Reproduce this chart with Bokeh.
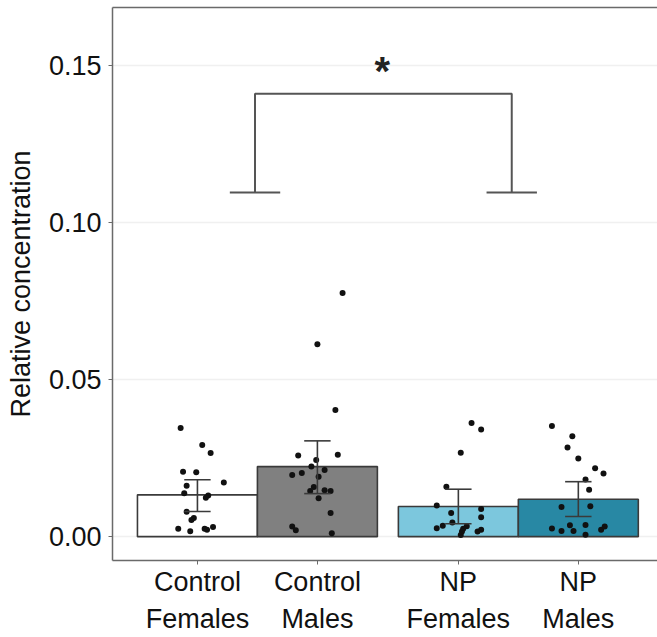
from bokeh.plotting import figure
from bokeh.models import (ColumnDataSource, FixedTicker, NumeralTickFormatter,
                          LinearAxis, Range1d)
from bokeh.core.properties import value
from bokeh.embed import file_html
from bokeh.resources import INLINE

# Groups and their positions on the x axis
groups = ["Control Females", "Control Males", "NP Females", "NP Males"]
tick_labels = ["Control\nFemales", "Control\nMales", "NP\nFemales", "NP\nMales"]
positions = [1.0, 2.0, 3.175, 4.175]

# Group means and error-bar limits
means = [0.0133, 0.0223, 0.0096, 0.0119]
err_low = [0.0080, 0.0137, 0.0041, 0.0064]
err_high = [0.0181, 0.0305, 0.0151, 0.0175]
bar_colors = ["#ffffff", "#808080", "#7cc7dd", "#2888a4"]

# Individual observations (value, horizontal jitter within the bar)
cf_vals = [0.0346, 0.0292, 0.0266, 0.0207, 0.0205, 0.0172, 0.0162, 0.0138, 0.0131,
           0.0124, 0.0079, 0.0059, 0.0053, 0.0025, 0.0017, 0.0025, 0.0022, 0.0031]
cf_jit = [-0.14, 0.04, 0.11, -0.12, -0.01, 0.22, -0.09, -0.11, 0.09,
          0.07, -0.09, -0.03, -0.05, -0.16, -0.06, 0.06, 0.08, 0.13]
cm_vals = [0.0776, 0.0613, 0.0403, 0.0258, 0.0261, 0.0244, 0.0223, 0.0212, 0.0196, 0.0203,
           0.0191, 0.0158, 0.0145, 0.0148, 0.0145, 0.0122, 0.0075, 0.0032, 0.0020, 0.0011]
cm_jit = [0.21, 0.00, 0.15, -0.16, 0.17, -0.01, -0.05, 0.06, -0.21, -0.13,
          0.01, -0.03, -0.06, 0.06, 0.11, 0.01, 0.11, -0.21, -0.18, 0.12]
npf_vals = [0.0362, 0.0341, 0.0267, 0.0159, 0.0099, 0.0088, 0.0075, 0.0062, 0.0045,
            0.0035, 0.0027, 0.0033, 0.0025, 0.0005, 0.0016, 0.0022, 0.0016]
npf_jit = [0.11, 0.19, 0.02, -0.10, -0.18, 0.19, -0.06, 0.19, -0.05,
           -0.13, -0.18, 0.07, 0.04, 0.02, 0.16, 0.19, 0.03]
npm_vals = [0.0352, 0.0320, 0.0284, 0.0249, 0.0218, 0.0201, 0.0182, 0.0149, 0.0094,
            0.0097, 0.0036, 0.0037, 0.0026, 0.0018, 0.0018, 0.0006, 0.0022, 0.0032]
npm_jit = [-0.22, -0.05, -0.09, 0.00, 0.14, 0.21, 0.06, 0.09, -0.14,
           0.10, -0.07, 0.06, -0.22, -0.14, -0.04, 0.06, 0.19, 0.22]

# Significance bracket between Control and NP
bracket_left, bracket_right = 1.48, 3.62
bracket_top, bracket_foot = 0.141, 0.1096
sig_text = "*"

FONT = "Liberation Sans"
EDGE = "#3a3a3a"

p = figure(width=657, height=637, output_backend="svg", toolbar_location=None,
           x_range=Range1d(0.292, 4.835), y_range=Range1d(-0.0076, 0.1685),
           min_border_left=112, min_border_right=0, min_border_top=7, min_border_bottom=77)
p.outline_line_color = None
p.background_fill_color = "white"
p.border_fill_color = "white"

# Bars
bars = ColumnDataSource(dict(x=positions, top=means, color=bar_colors))
p.vbar(x="x", top="top", bottom=0, width=1.0, fill_color="color",
       line_color=EDGE, line_width=1.6, source=bars)

# Observations
for pos, vals, jit in [(positions[0], cf_vals, cf_jit), (positions[1], cm_vals, cm_jit),
                       (positions[2], npf_vals, npf_jit), (positions[3], npm_vals, npm_jit)]:
    p.scatter([pos + j for j in jit], vals, size=6, color="#111111", line_color=None)

# Error bars
cap = 0.11
err = ColumnDataSource(dict(x=positions, lo=err_low, hi=err_high,
                            x0=[x - cap for x in positions], x1=[x + cap for x in positions]))
p.segment(x0="x", y0="lo", x1="x", y1="hi", line_color=EDGE, line_width=1.6, source=err)
p.segment(x0="x0", y0="hi", x1="x1", y1="hi", line_color=EDGE, line_width=1.6, source=err)
p.segment(x0="x0", y0="lo", x1="x1", y1="lo", line_color=EDGE, line_width=1.6, source=err)

# Bracket
foot = 0.21
BR = "#555555"
p.line([bracket_left, bracket_left, bracket_right, bracket_right],
       [bracket_foot, bracket_top, bracket_top, bracket_foot], line_color=BR, line_width=2)
p.segment([bracket_left - foot, bracket_right - foot], [bracket_foot, bracket_foot],
          [bracket_left + foot, bracket_right + foot], [bracket_foot, bracket_foot],
          line_color=BR, line_width=2)
p.text([(bracket_left + bracket_right) / 2 - 0.01], [bracket_top + 0.0072], text=[sig_text],
       text_font=value(FONT), text_font_size="40px", text_font_style="bold",
       text_align="center", text_baseline="alphabetic", text_color="#222222")

# Grid
p.xgrid.grid_line_color = None
p.ygrid.grid_line_color = "#f0f0f0"
p.ygrid.grid_line_width = 1.5
p.ygrid.ticker = FixedTicker(ticks=[0, 0.05, 0.10, 0.15])

# Axes
AX = "#6a6a6a"
ya = p.yaxis[0]
ya.ticker = FixedTicker(ticks=[0, 0.05, 0.10, 0.15])
ya.formatter = NumeralTickFormatter(format="0.00")
ya.axis_label = "Relative concentration"
ya.axis_label_text_font = FONT
ya.axis_label_text_font_style = "normal"
ya.axis_label_text_font_size = "27px"
ya.axis_label_text_color = "#111111"
ya.axis_label_standoff = 10
ya.major_label_text_font = FONT
ya.major_label_text_font_size = "27px"
ya.major_label_text_color = "#111111"
ya.major_label_standoff = 7
ya.axis_line_color = AX
ya.axis_line_width = 1.5
ya.major_tick_line_color = AX
ya.major_tick_out = 4
ya.major_tick_in = 0
ya.minor_tick_line_color = None

xa = p.xaxis[0]
xa.ticker = FixedTicker(ticks=positions)
xa.major_label_overrides = {pos: lab for pos, lab in zip(positions, tick_labels)}
xa.major_label_text_font = FONT
xa.major_label_text_font_size = "27px"
xa.major_label_text_color = "#111111"
xa.major_label_text_line_height = 1.25
xa.major_label_standoff = 2
xa.axis_line_color = AX
xa.axis_line_width = 1.5
xa.major_tick_line_color = AX
xa.major_tick_out = 4
xa.major_tick_in = 0
xa.minor_tick_line_color = None

# Top frame line
top = LinearAxis(ticker=FixedTicker(ticks=[]), axis_line_color=AX, axis_line_width=1.5,
                 major_tick_line_color=None, minor_tick_line_color=None,
                 major_label_text_font_size="0px")
p.add_layout(top, "above")

open("out.html", "w").write(file_html(p, INLINE))
